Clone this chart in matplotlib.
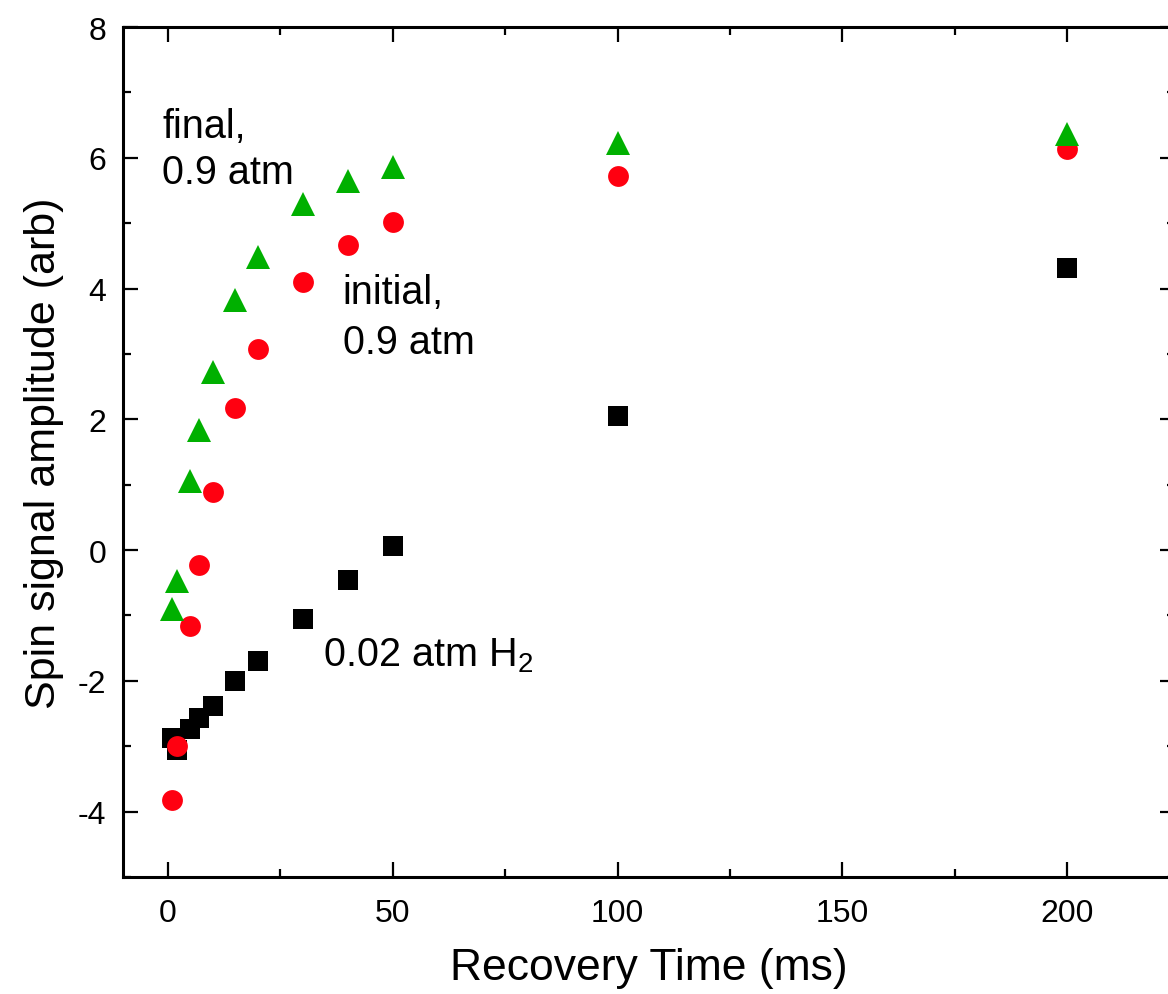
import matplotlib
matplotlib.use("Agg")
import matplotlib.pyplot as plt
from matplotlib.ticker import MultipleLocator

plt.rcParams['font.family'] = ['Liberation Sans', 'DejaVu Sans']
plt.rcParams['mathtext.default'] = 'regular'
plt.rcParams['axes.unicode_minus'] = False

# recovery times (ms)
t_ms = [1, 2, 5, 7, 10, 15, 20, 30, 40, 50, 100, 200]

# spin signal amplitude (arb)
low_h2 = [-2.88, -3.05, -2.74, -2.57, -2.38, -2.0, -1.7, -1.06, -0.46, 0.06, 2.05, 4.31]
initial_09 = [-3.82, -3.0, -1.16, -0.23, 0.89, 2.18, 3.07, 4.1, 4.67, 5.02, 5.72, 6.13]
final_09 = [-0.9, -0.48, 1.06, 1.83, 2.72, 3.82, 4.49, 5.29, 5.65, 5.86, 6.23, 6.37]

fig = plt.figure(figsize=(11.68, 9.95), dpi=100)
ax = fig.add_axes([123 / 1168, 117 / 995, 1052 / 1168, 850 / 995])

ax.plot(t_ms, low_h2, 's', color='black', markersize=14, markeredgewidth=0, zorder=3)
ax.plot(t_ms, initial_09, 'o', color='#ff0010', markersize=15, markeredgewidth=0, zorder=4)
ax.plot(t_ms, final_09, '^', color='#00b000', markersize=17, markeredgewidth=0, zorder=5)

ax.set_xlim(-10, 224)
ax.set_ylim(-5, 8)
ax.xaxis.set_major_locator(MultipleLocator(50))
ax.xaxis.set_minor_locator(MultipleLocator(25))
ax.yaxis.set_major_locator(MultipleLocator(2))
ax.yaxis.set_minor_locator(MultipleLocator(1))

for side in ax.spines.values():
    side.set_linewidth(2.2)
ax.tick_params(which='both', direction='in', top=True, right=True, width=1.6)
ax.tick_params(which='major', length=11, labelsize=23, pad=12)
ax.tick_params(which='minor', length=6)
ax.tick_params(axis='x', pad=15)

ax.set_xlabel("Recovery Time (ms)", fontsize=32, labelpad=14)
ax.set_ylabel("Spin signal amplitude (arb)", fontsize=31, labelpad=10)

# series labels
ax.text(-1.3, 6.32, "final,", fontsize=28.5, va='baseline')
ax.text(-1.3, 5.61, "0.9 atm", fontsize=28.5, va='baseline')
ax.text(38.9, 3.78, "initial,", fontsize=28.5, va='baseline')
ax.text(38.9, 3.01, "0.9 atm", fontsize=28.5, va='baseline')
ax.text(34.5, -1.76, "0.02 atm H$_2$", fontsize=28.5, va='baseline')

fig.savefig("out.png", dpi=100)
